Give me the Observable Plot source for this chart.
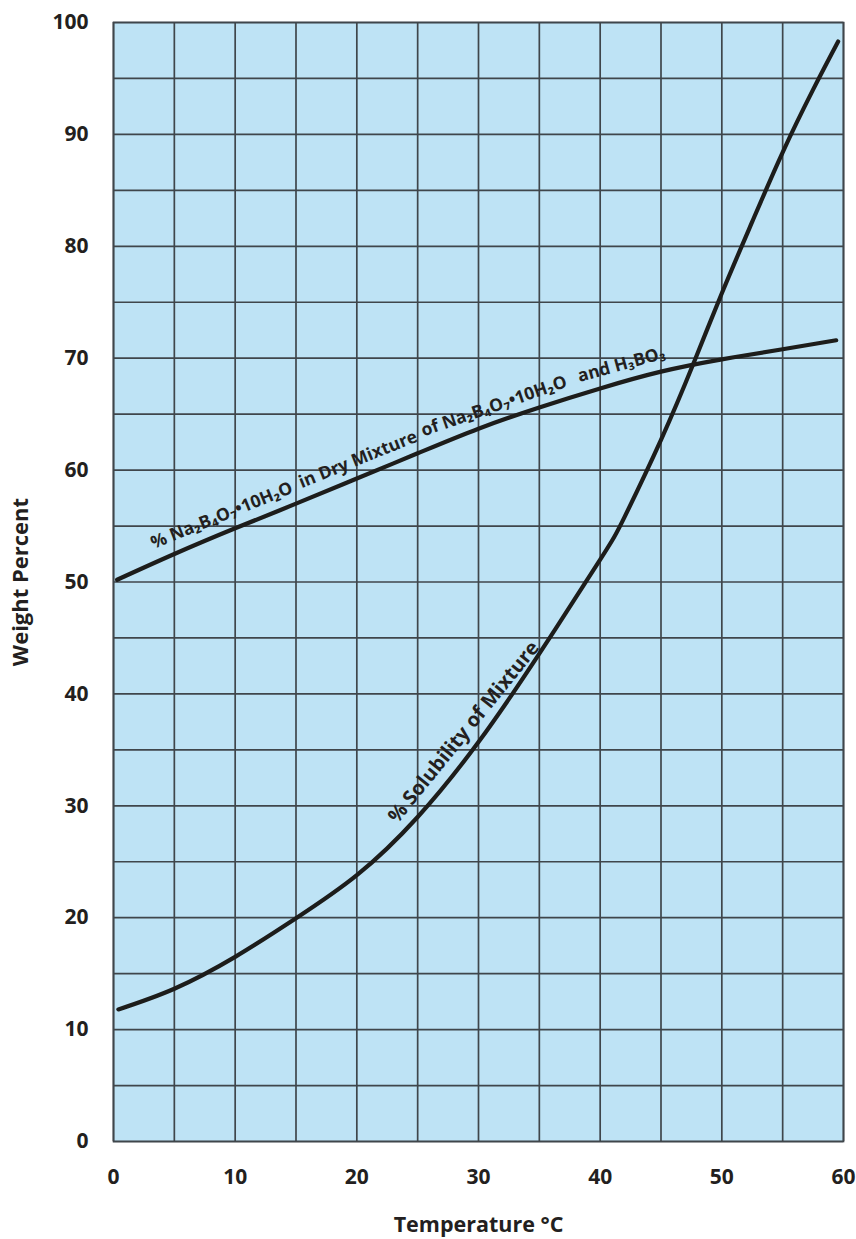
<!DOCTYPE html>
<html><head><meta charset="utf-8">
<script src="https://cdn.jsdelivr.net/npm/d3@7"></script>
<script src="https://cdn.jsdelivr.net/npm/@observablehq/plot@0.6"></script>
<style>body{margin:0;background:#fff}#chart svg{display:block}</style>
</head><body><div id="chart"></div>
<script>
// Curve 1: % Na2B4O7·10H2O in dry mixture
const tempDry = [0.3, 5, 10, 15, 20, 25, 30, 35, 40, 45, 50, 55, 59.4];
const dryPct  = [50.2, 52.5, 54.8, 57.0, 59.25, 61.5, 63.7, 65.6, 67.3, 68.8, 69.9, 70.8, 71.6];
// Curve 2: % solubility of mixture
const tempSol = [0.4, 5, 10, 15, 20, 25, 30, 35, 40, 42, 45, 47.66, 50, 52.5, 55, 57.5, 59.56];
const solPct  = [11.8, 13.65, 16.5, 19.95, 23.8, 29.0, 35.7, 43.6, 52.0, 55.8, 62.7, 69.5, 75.8, 82.2, 88.4, 94.0, 98.3];

const xTicks = [0, 10, 20, 30, 40, 50, 60];
const yTicks = [0, 10, 20, 30, 40, 50, 60, 70, 80, 90, 100];
const xGrid = [0, 5, 10, 15, 20, 25, 30, 35, 40, 45, 50, 55, 60];
const yGrid = [0, 5, 10, 15, 20, 25, 30, 35, 40, 45, 50, 55, 60, 65, 70, 75, 80, 85, 90, 95, 100];

const dryLabelText  = ["% Na₂B₄O₇•10H₂O", "in Dry Mixture", "of Na₂B₄O₇•10H₂O", "and H₃BO₃"];
const dryLabelX     = [9.4, 20.6, 31.75, 42.2];
const dryLabelY     = [54.55, 59.55, 64.3, 68.0];
const dryLabelAngle = [-22, -22, -19, -15.5];

const solLabelText  = ["% Solubility of Mixture"];
const solLabelX     = [29.9];
const solLabelY     = [35.6];
const solLabelAngle = [-51];

const xLabel = "Temperature °C";
const yLabel = "Weight Percent";

const dry = tempDry.map((t, i) => ({t, v: dryPct[i]}));
const sol = tempSol.map((t, i) => ({t, v: solPct[i]}));
const dryLabels = dryLabelText.map((s, i) => ({s, x: dryLabelX[i], y: dryLabelY[i], a: dryLabelAngle[i]}));
const solLabels = solLabelText.map((s, i) => ({s, x: solLabelX[i], y: solLabelY[i], a: solLabelAngle[i]}));

const ink = "#231f20";
const gridColor = "#3f464b";
const font = "'Open Sans', 'Noto Sans', 'DejaVu Sans', sans-serif";

const chart = Plot.plot({
  width: 856,
  height: 1239,
  marginLeft: 113,
  marginRight: 13,
  marginTop: 22,
  marginBottom: 98,
  x: {domain: [0, 60]},
  y: {domain: [0, 100]},
  style: {fontFamily: font, color: ink, background: "#fff"},
  marks: [
    Plot.frame({fill: "#bee3f5", stroke: null}),
    Plot.gridX(xGrid, {stroke: gridColor, strokeOpacity: 1, strokeWidth: 1.7}),
    Plot.gridY(yGrid, {stroke: gridColor, strokeOpacity: 1, strokeWidth: 1.7}),
    Plot.frame({stroke: gridColor, strokeWidth: 1.7}),
    Plot.axisX(xTicks, {tickSize: 0, tickPadding: 28, label: null, fontSize: 21, fontWeight: 700, fill: ink, fontFamily: font}),
    Plot.axisY(yTicks, {tickSize: 0, tickPadding: 25, label: null, fontSize: 21, fontWeight: 700, fill: ink, fontFamily: font}),
    Plot.line(dry, {x: "t", y: "v", curve: "natural", stroke: "#1d1d1b", strokeWidth: 4.2, strokeLinecap: "round"}),
    Plot.line(sol, {x: "t", y: "v", curve: "natural", stroke: "#1d1d1b", strokeWidth: 4.2, strokeLinecap: "round"}),
    Plot.text(dryLabels, {x: "x", y: "y", text: "s", rotate: "a", textAnchor: "middle", lineAnchor: "bottom",
      dx: -4, dy: -10.5, fontSize: 17.5, fontWeight: 700, fill: ink, fontFamily: font}),
    Plot.text(solLabels, {x: "x", y: "y", text: "s", rotate: "a", textAnchor: "middle", lineAnchor: "bottom",
      dx: -8.5, dy: -7, fontSize: 20, fontWeight: 700, fill: ink, fontFamily: font}),
    Plot.text([xLabel], {frameAnchor: "bottom", dy: 84, lineAnchor: "middle", textAnchor: "middle", text: d => d,
      fontSize: 21.5, fontWeight: 700, fill: ink, fontFamily: font}),
    Plot.text([yLabel], {frameAnchor: "left", dx: -93, rotate: -90, lineAnchor: "middle", textAnchor: "middle", text: d => d,
      fontSize: 22, fontWeight: 700, fill: ink, fontFamily: font})
  ]
});
document.getElementById("chart").appendChild(chart);
</script>
</body></html>
